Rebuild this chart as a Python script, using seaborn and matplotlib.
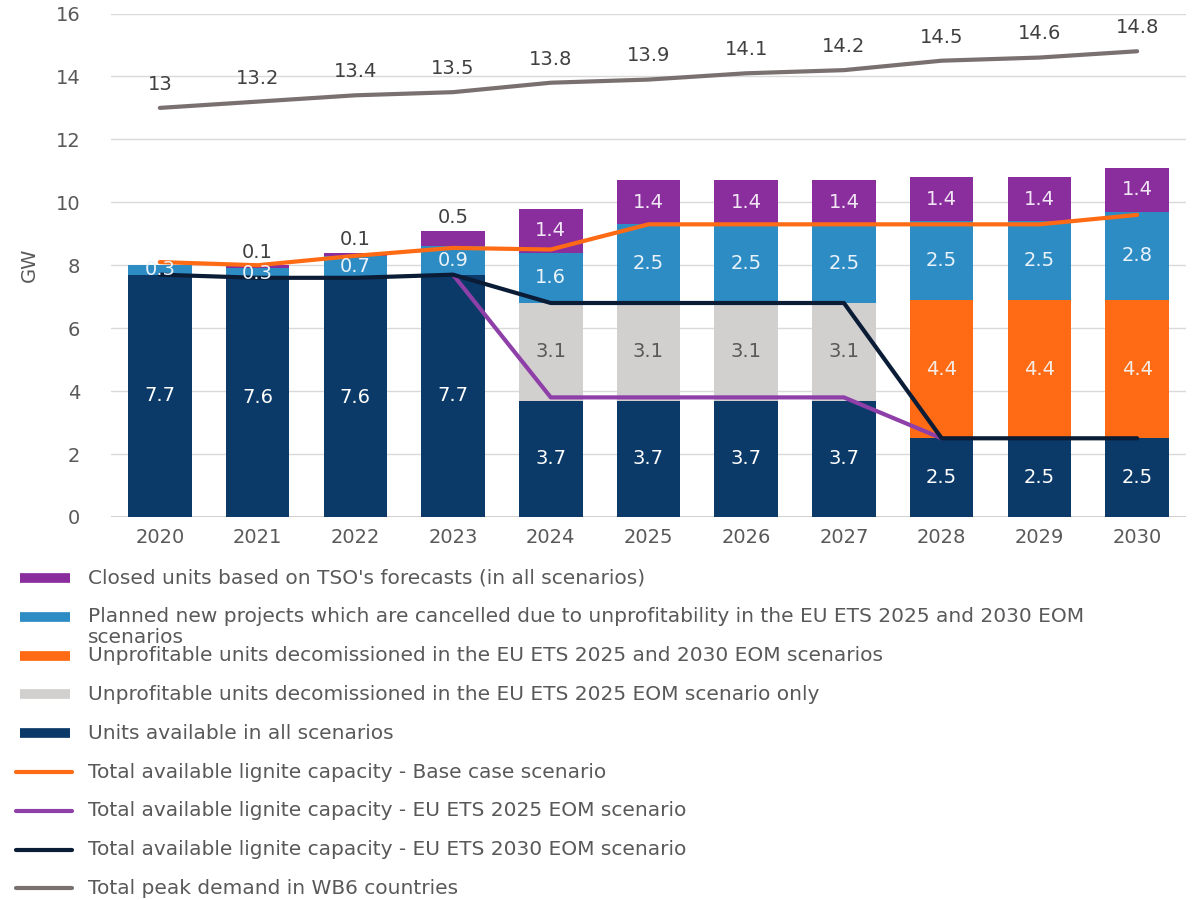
import matplotlib
matplotlib.use("Agg")
import matplotlib.pyplot as plt
from matplotlib.lines import Line2D
import numpy as np
import pandas as pd
import seaborn as sns

years = ["2020", "2021", "2022", "2023", "2024", "2025", "2026", "2027", "2028", "2029", "2030"]

# stacked bar segments (GW), bottom to top
available_all = [7.7, 7.6, 7.6, 7.7, 3.7, 3.7, 3.7, 3.7, 2.5, 2.5, 2.5]
decom_2025_only = [0, 0, 0, 0, 3.1, 3.1, 3.1, 3.1, 0, 0, 0]
decom_both = [0, 0, 0, 0, 0, 0, 0, 0, 4.4, 4.4, 4.4]
planned_new = [0.3, 0.3, 0.7, 0.9, 1.6, 2.5, 2.5, 2.5, 2.5, 2.5, 2.8]
closed_tso = [0, 0.1, 0.1, 0.5, 1.4, 1.4, 1.4, 1.4, 1.4, 1.4, 1.4]

# lines (GW)
base_case = [8.1, 8.0, 8.3, 8.55, 8.5, 9.3, 9.3, 9.3, 9.3, 9.3, 9.6]
ets_2025 = [None, None, None, 7.7, 3.8, 3.8, 3.8, 3.8, 2.5, None, None]
ets_2030 = [7.7, 7.6, 7.6, 7.7, 6.8, 6.8, 6.8, 6.8, 2.5, 2.5, 2.5]
peak_demand = [13, 13.2, 13.4, 13.5, 13.8, 13.9, 14.1, 14.2, 14.5, 14.6, 14.8]
peak_labels = ["13", "13.2", "13.4", "13.5", "13.8", "13.9", "14.1", "14.2", "14.5", "14.6", "14.8"]

C_NAVY = "#0B3A68"
C_BLUE = "#2E8CC4"
C_ORANGE = "#FF6A14"
C_GREY = "#D2D0CF"
C_PURPLE = "#8A2E9E"
C_LINE_PURPLE = "#8E3FA8"
C_LINE_NAVY = "#0A1C36"
C_LINE_GREY = "#7A7070"
C_TEXT = "#595959"

sns.set_theme(style="white", rc={"axes.grid": False})
plt.rcParams["font.family"] = ["DejaVu Sans"]

df = pd.DataFrame({
    "year": years,
    "navy": available_all,
    "grey": decom_2025_only,
    "orange": decom_both,
    "blue": planned_new,
    "purple": closed_tso,
})
df["cum_navy"] = df["navy"]
df["cum_grey"] = df["cum_navy"] + df["grey"]
df["cum_orange"] = df["cum_grey"] + df["orange"]
df["cum_blue"] = df["cum_orange"] + df["blue"]
df["cum_purple"] = df["cum_blue"] + df["purple"]

fig = plt.figure(figsize=(12.01, 9.0), dpi=100)
ax = fig.add_axes([0.0924, 0.4256, 0.8951, 0.5594])

for ytick in range(2, 17, 2):
    ax.axhline(ytick, color="#D9D9D9", lw=1.0, zorder=0)
ax.axhline(0, color="#D0D0D0", lw=1.4, zorder=0)

bw = 0.65
for col, color in [("cum_purple", C_PURPLE), ("cum_blue", C_BLUE), ("cum_orange", C_ORANGE),
                   ("cum_grey", C_GREY), ("cum_navy", C_NAVY)]:
    sns.barplot(data=df, x="year", y=col, color=color, width=bw, saturation=1,
                edgecolor="none", linewidth=0, ax=ax, zorder=2)

# segment labels
segs = [("navy", "cum_navy", "white"), ("grey", "cum_grey", C_TEXT),
        ("orange", "cum_orange", "#F4EDE6"), ("blue", "cum_blue", "#EAF3FA"),
        ("purple", "cum_purple", "#F1E6F4")]
for i in range(len(years)):
    for seg, cum, tc in segs:
        v = df.loc[i, seg]
        if v <= 0:
            continue
        top = df.loc[i, cum]
        if seg == "purple" and v < 1:
            ax.text(i, top + 0.1, f"{v:g}", ha="center", va="bottom", color="#404040",
                    fontsize=14, zorder=6)
        else:
            ax.text(i, top - v / 2, f"{v:g}", ha="center", va="center", color=tc,
                    fontsize=14, zorder=6)

idx = np.arange(len(years))
sns.lineplot(x=idx, y=peak_demand, color=C_LINE_GREY, lw=3, ax=ax, zorder=4)
sns.lineplot(x=idx, y=base_case, color=C_ORANGE, lw=3, ax=ax, zorder=5)
sel = [i for i, v in enumerate(ets_2025) if v is not None]
sns.lineplot(x=idx[sel], y=[ets_2025[i] for i in sel], color=C_LINE_PURPLE, lw=3, ax=ax, zorder=4)
sns.lineplot(x=idx, y=ets_2030, color=C_LINE_NAVY, lw=3, ax=ax, zorder=4)

for i, (v, lab) in enumerate(zip(peak_demand, peak_labels)):
    ax.text(i, v + 0.75, lab, ha="center", va="center", color="#404040", fontsize=14)

ax.set_xlim(-0.5, len(years) - 0.5)
ax.set_ylim(0, 16)
ax.set_yticks(range(0, 17, 2))
ax.set_xlabel("")
ax.set_ylabel("GW", color=C_TEXT, fontsize=14, labelpad=12)
ax.tick_params(axis="both", length=0, labelsize=14, labelcolor=C_TEXT)
ax.tick_params(axis="y", pad=22)
ax.tick_params(axis="x", pad=8)
sns.despine(ax=ax, left=True, bottom=True)

# manual legend below the chart
legend_rows = [
    ("bar", C_PURPLE, "Closed units based on TSO's forecasts (in all scenarios)"),
    ("bar", C_BLUE, "Planned new projects which are cancelled due to unprofitability in the EU ETS 2025 and 2030 EOM\nscenarios"),
    ("bar", C_ORANGE, "Unprofitable units decomissioned in the EU ETS 2025 and 2030 EOM scenarios"),
    ("bar", C_GREY, "Unprofitable units decomissioned in the EU ETS 2025 EOM scenario only"),
    ("bar", C_NAVY, "Units available in all scenarios"),
    ("line", C_ORANGE, "Total available lignite capacity - Base case scenario"),
    ("line", C_LINE_PURPLE, "Total available lignite capacity - EU ETS 2025 EOM scenario"),
    ("line", C_LINE_NAVY, "Total available lignite capacity - EU ETS 2030 EOM scenario"),
    ("line", C_LINE_GREY, "Total peak demand in WB6 countries"),
]
W, H = 1201, 900
y0, dy = 578, 38.8
for k, (kind, color, label) in enumerate(legend_rows):
    yc = y0 + k * dy
    yf = 1 - yc / H
    if kind == "bar":
        fig.add_artist(Line2D([20 / W, 70 / W], [yf, yf], color=color, lw=7, solid_capstyle="butt"))
    else:
        fig.add_artist(Line2D([16 / W, 72 / W], [yf, yf], color=color, lw=3, solid_capstyle="round"))
    if "\n" in label:
        first, second = label.split("\n")
        fig.text(88 / W, yf, first, ha="left", va="center", fontsize=14.5, color=C_TEXT)
        fig.text(88 / W, 1 - (yc + 21) / H, second, ha="left", va="center", fontsize=14.5, color=C_TEXT)
    else:
        fig.text(88 / W, yf, label, ha="left", va="center", fontsize=14.5, color=C_TEXT)

fig.savefig("out.png", dpi=100)
